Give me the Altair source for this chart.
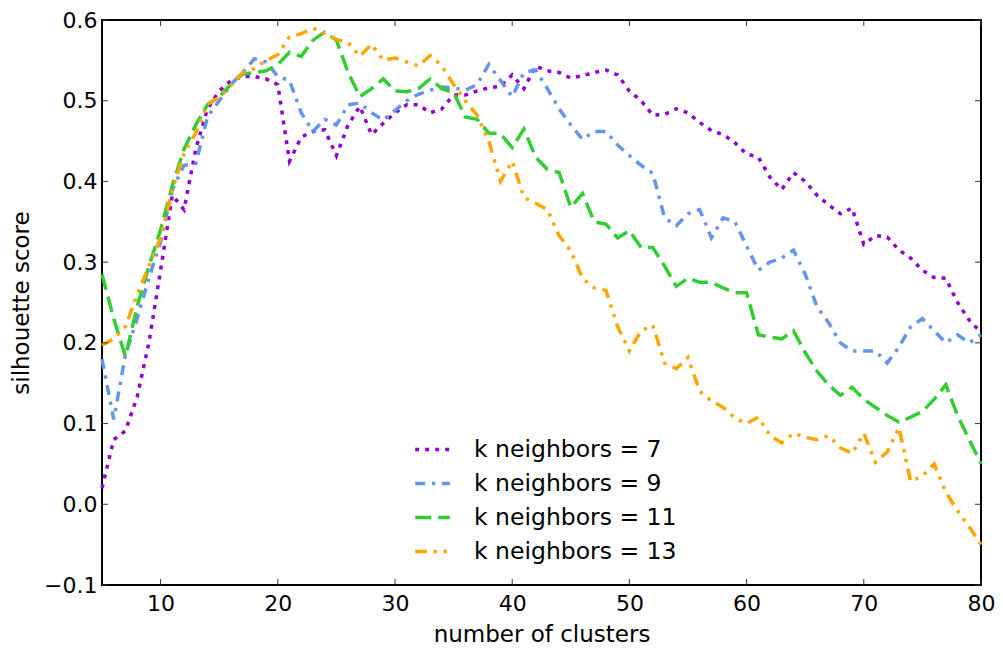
import altair as alt
import pandas as pd

clusters = list(range(5, 81))

k7 = [0.02, 0.08, 0.091, 0.133, 0.20, 0.29, 0.383, 0.365, 0.44, 0.49,
      0.512, 0.525, 0.53, 0.53, 0.527, 0.52, 0.425, 0.455, 0.462, 0.464,
      0.432, 0.47, 0.493, 0.458, 0.472, 0.485, 0.495, 0.495, 0.485, 0.49,
      0.507, 0.507, 0.512, 0.516, 0.518, 0.532, 0.515, 0.543, 0.537, 0.535,
      0.528, 0.531, 0.535, 0.538, 0.532, 0.512, 0.50, 0.482, 0.483, 0.49,
      0.485, 0.473, 0.463, 0.458, 0.448, 0.434, 0.43, 0.405, 0.39, 0.411,
      0.40, 0.383, 0.371, 0.36, 0.367, 0.322, 0.333, 0.331, 0.315, 0.305,
      0.29, 0.281, 0.28, 0.25, 0.228, 0.213]

k9 = [0.18, 0.105, 0.185, 0.23, 0.28, 0.325, 0.39, 0.42, 0.422, 0.48,
      0.50, 0.52, 0.535, 0.552, 0.548, 0.53, 0.525, 0.485, 0.462, 0.477,
      0.47, 0.495, 0.497, 0.485, 0.476, 0.488, 0.50, 0.508, 0.513, 0.517,
      0.516, 0.513, 0.52, 0.545, 0.525, 0.505, 0.535, 0.538, 0.515, 0.49,
      0.47, 0.452, 0.462, 0.462, 0.445, 0.432, 0.42, 0.41, 0.355, 0.345,
      0.36, 0.365, 0.33, 0.355, 0.35, 0.32, 0.29, 0.30, 0.305, 0.315,
      0.285, 0.245, 0.225, 0.20, 0.19, 0.19, 0.19, 0.175, 0.195, 0.22,
      0.23, 0.215, 0.20, 0.21, 0.20, 0.21]

k11 = [0.285, 0.23, 0.183, 0.245, 0.295, 0.34, 0.395, 0.44, 0.47, 0.495,
       0.505, 0.52, 0.533, 0.535, 0.537, 0.545, 0.56, 0.555, 0.575, 0.585,
       0.575, 0.535, 0.505, 0.515, 0.527, 0.512, 0.511, 0.515, 0.527, 0.515,
       0.51, 0.48, 0.477, 0.46, 0.459, 0.442, 0.465, 0.43, 0.415, 0.411,
       0.368, 0.385, 0.35, 0.347, 0.33, 0.339, 0.318, 0.318, 0.295, 0.27,
       0.28, 0.275, 0.275, 0.268, 0.262, 0.262, 0.21, 0.207, 0.205, 0.215,
       0.188, 0.165, 0.148, 0.135, 0.145, 0.13, 0.12, 0.11, 0.102, 0.108,
       0.115, 0.13, 0.148, 0.11, 0.08, 0.05]

k13 = [0.197, 0.205, 0.22, 0.26, 0.295, 0.33, 0.39, 0.434, 0.46, 0.496,
       0.504, 0.519, 0.535, 0.54, 0.55, 0.557, 0.579, 0.583, 0.59, 0.583,
       0.576, 0.572, 0.555, 0.57, 0.55, 0.553, 0.548, 0.543, 0.556, 0.543,
       0.52, 0.50, 0.482, 0.45, 0.40, 0.425, 0.38, 0.373, 0.365, 0.333,
       0.314, 0.28, 0.268, 0.265, 0.22, 0.19, 0.215, 0.222, 0.175, 0.168,
       0.182, 0.14, 0.128, 0.12, 0.107, 0.10, 0.108, 0.085, 0.076, 0.088,
       0.083, 0.08, 0.085, 0.07, 0.063, 0.088, 0.052, 0.065, 0.095, 0.028,
       0.035, 0.05, 0.015, -0.008, -0.028, -0.05]

series_names = ["k neighbors = 7", "k neighbors = 9",
                "k neighbors = 11", "k neighbors = 13"]
colors = ["#9400D3", "#6495ED", "#32CD32", "#FFA500"]
dashes = [[4, 6], [10, 6.7, 3.3, 6.7], [16, 7],
          [11.7, 6.7, 3.3, 6.7, 3.3, 6.7]]
x_ticks = [10, 20, 30, 40, 50, 60, 70, 80]
y_ticks = [-0.1, 0.0, 0.1, 0.2, 0.3, 0.4, 0.5, 0.6]

rows = []
for name, vals in zip(series_names, [k7, k9, k11, k13]):
    for c, v in zip(clusters, vals):
        rows.append({"clusters": c, "score": v, "series": name})
df = pd.DataFrame(rows)

W, H = 879, 565
FONT = "DejaVu Sans"
TL = 6

xscale = alt.Scale(domain=[5, 80], nice=False, zero=False)
yscale = alt.Scale(domain=[-0.1, 0.6], nice=False, zero=False)

xaxis = alt.Axis(title="number of clusters", values=x_ticks, format="d",
                 labelFlush=False, labelOverlap=False, labelPadding=8,
                 titlePadding=9)
yaxis = alt.Axis(title="silhouette score", values=y_ticks, format=".1f",
                 labelFlush=False, labelOverlap=False, labelPadding=5,
                 titlePadding=10)

legend = alt.Legend(title=None, orient="none", legendX=311, legendY=410,
                    symbolType="stroke", symbolSize=1200, symbolStrokeWidth=3.5,
                    labelFont=FONT, labelFontSize=23.5, labelColor="black",
                    labelLimit=0, labelOffset=22, rowPadding=3, padding=0)

lines = alt.Chart(df).mark_line(strokeWidth=3.5, strokeCap="butt").encode(
    x=alt.X("clusters:Q", scale=xscale, axis=xaxis),
    y=alt.Y("score:Q", scale=yscale, axis=yaxis),
    color=alt.Color("series:N", scale=alt.Scale(domain=series_names, range=colors),
                    legend=legend),
    strokeDash=alt.StrokeDash("series:N",
                              scale=alt.Scale(domain=series_names, range=dashes),
                              legend=legend),
)

xt_df = pd.DataFrame({"v": x_ticks})
yt_df = pd.DataFrame({"v": y_ticks})
tick_style = dict(color="#333333", strokeWidth=1)

bottom_ticks = alt.Chart(xt_df).mark_rule(**tick_style).encode(
    x=alt.X("v:Q", scale=xscale, axis=xaxis), y=alt.value(H), y2=alt.value(H - TL))
top_ticks = alt.Chart(xt_df).mark_rule(**tick_style).encode(
    x=alt.X("v:Q", scale=xscale, axis=xaxis), y=alt.value(0), y2=alt.value(TL))
left_ticks = alt.Chart(yt_df).mark_rule(**tick_style).encode(
    y=alt.Y("v:Q", scale=yscale, axis=yaxis), x=alt.value(0), x2=alt.value(TL))
right_ticks = alt.Chart(yt_df).mark_rule(**tick_style).encode(
    y=alt.Y("v:Q", scale=yscale, axis=yaxis), x=alt.value(W), x2=alt.value(W - TL))

chart = alt.layer(lines, bottom_ticks, top_ticks, left_ticks, right_ticks).properties(
    width=W, height=H,
    autosize=alt.AutoSizeParams(type="none"),
    padding={"left": 94, "top": 12, "right": 14, "bottom": 66},
).configure_view(
    stroke="black", strokeWidth=2
).configure_axis(
    domain=False, ticks=False, grid=False,
    labelFont=FONT, labelFontSize=22, labelColor="black",
    titleFont=FONT, titleFontSize=23, titleFontWeight="normal", titleColor="black",
)

chart.save("out.html", embed_options={"renderer": "svg", "actions": False})
